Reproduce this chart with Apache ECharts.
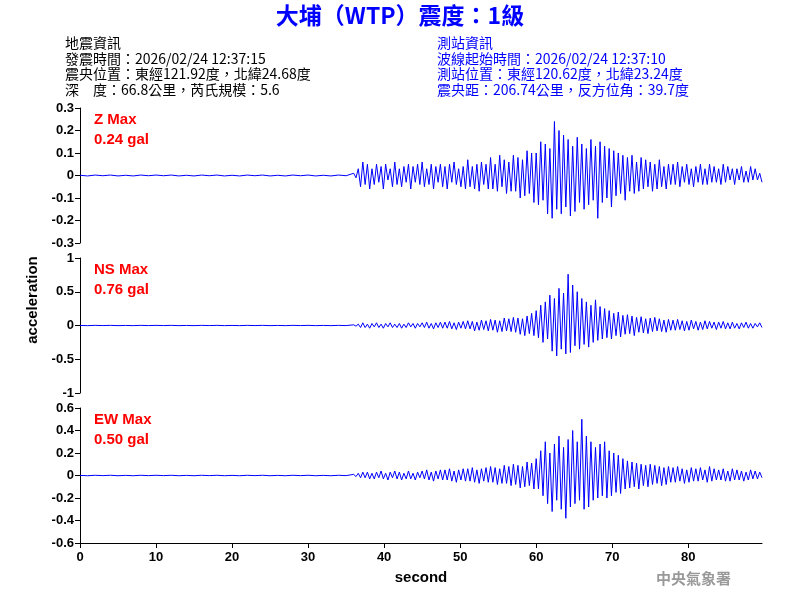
<!DOCTYPE html>
<html>
<head>
<meta charset="utf-8">
<script src="https://cdn.jsdelivr.net/npm/echarts@6/dist/echarts.min.js"></script>
<style>
  body { margin: 0; background: #fff; }
  #main { width: 800px; height: 600px; }
</style>
</head>
<body>
<div id="main"></div>
<script>
// sample spacing (s)
var quietStep = 1
var mainStart = 36
var mainStep = 0.3

// 0 - 35 s, before the waves arrive
var quiet = [0.001, -0.002, 0.002, -0.001, 0.002, -0.002, 0.001, -0.002, 0.002, -0.001,
  0.002, -0.001, 0.002, -0.002, 0.001, -0.002, 0.002, -0.001, 0.002, -0.002,
  0.001, -0.002, 0.002, -0.001, 0.002, -0.002, 0.001, -0.002, 0.002, -0.001,
  0.002, -0.002, 0.001, -0.002, 0.002, -0.001]

var zVals = [0.01, -0.01, 0.03, -0.05, 0.06, -0.04, 0.05, -0.06, 0.03, -0.04,
  0.05, -0.03, 0.04, -0.06, 0.05, -0.02, 0.03, -0.05, 0.06, -0.04,
  0.03, -0.05, 0.04, -0.03, 0.05, -0.06, 0.04, -0.03, 0.05, -0.04,
  0.06, -0.05, 0.03, -0.04, 0.05, -0.06, 0.04, -0.03, 0.05, -0.05,
  0.04, -0.06, 0.05, -0.03, 0.06, -0.04, 0.03, -0.05, 0.04, -0.06,
  0.07, -0.05, 0.04, -0.06, 0.05, -0.07, 0.06, -0.04, 0.05, -0.06,
  0.08, -0.06, 0.05, -0.07, 0.09, -0.05, 0.07, -0.08, 0.06, -0.07,
  0.09, -0.07, 0.08, -0.10, 0.07, -0.09, 0.11, -0.08, 0.10, -0.12,
  0.10, -0.13, 0.15, -0.11, 0.14, -0.17, 0.12, -0.19, 0.24, -0.15,
  0.20, -0.17, 0.18, -0.14, 0.16, -0.18, 0.13, -0.16, 0.17, -0.12,
  0.14, -0.15, 0.12, -0.13, 0.16, -0.11, 0.13, -0.19, 0.15, -0.12,
  0.13, -0.10, 0.12, -0.14, 0.11, -0.09, 0.10, -0.08, 0.09, -0.11,
  0.08, -0.07, 0.09, -0.08, 0.06, -0.07, 0.08, -0.06, 0.07, -0.05,
  0.06, -0.07, 0.05, -0.06, 0.07, -0.05, 0.04, -0.06, 0.05, -0.04,
  0.05, -0.04, 0.06, -0.05, 0.04, -0.03, 0.05, -0.04, 0.03, -0.05,
  0.04, -0.03, 0.05, -0.04, 0.03, -0.04, 0.05, -0.03, 0.04, -0.03,
  0.03, -0.04, 0.05, -0.03, 0.04, -0.02, 0.03, -0.04, 0.03, -0.02,
  0.04, -0.03, 0.02, -0.03, 0.04, -0.02, 0.03, -0.02, 0.01, -0.03]

var nsVals = [0.01, -0.01, 0.02, -0.03, 0.04, -0.03, 0.02, -0.04, 0.03, -0.02,
  0.04, -0.03, 0.02, -0.04, 0.03, -0.02, 0.04, -0.03, 0.02, -0.03,
  0.03, -0.04, 0.02, -0.03, 0.04, -0.02, 0.03, -0.04, 0.03, -0.02,
  0.04, -0.03, 0.05, -0.04, 0.03, -0.05, 0.04, -0.03, 0.05, -0.04,
  0.05, -0.04, 0.06, -0.05, 0.04, -0.06, 0.05, -0.04, 0.06, -0.05,
  0.07, -0.05, 0.06, -0.08, 0.05, -0.07, 0.08, -0.06, 0.07, -0.08,
  0.09, -0.07, 0.08, -0.10, 0.07, -0.09, 0.11, -0.08, 0.10, -0.09,
  0.12, -0.10, 0.11, -0.13, 0.10, -0.15, 0.14, -0.12, 0.18, -0.15,
  0.22, -0.18, 0.30, -0.25, 0.35, -0.20, 0.45, -0.38, 0.40, -0.45,
  0.55, -0.35, 0.48, -0.42, 0.76, -0.40, 0.60, -0.30, 0.50, -0.35,
  0.40, -0.28, 0.35, -0.32, 0.30, -0.25, 0.38, -0.22, 0.28, -0.20,
  0.25, -0.18, 0.22, -0.20, 0.18, -0.15, 0.20, -0.17, 0.15, -0.13,
  0.16, -0.12, 0.14, -0.15, 0.12, -0.10, 0.13, -0.11, 0.10, -0.12,
  0.11, -0.09, 0.12, -0.08, 0.10, -0.09, 0.08, -0.10, 0.09, -0.07,
  0.08, -0.07, 0.09, -0.06, 0.07, -0.08, 0.06, -0.07, 0.08, -0.05,
  0.06, -0.07, 0.05, -0.06, 0.07, -0.05, 0.06, -0.04, 0.05, -0.06,
  0.05, -0.04, 0.06, -0.05, 0.04, -0.05, 0.05, -0.04, 0.03, -0.05,
  0.04, -0.03, 0.05, -0.04, 0.03, -0.04, 0.03, -0.02, 0.04, -0.03]

var ewVals = [0.01, -0.01, 0.02, -0.02, 0.03, -0.02, 0.03, -0.03, 0.02, -0.03,
  0.03, -0.02, 0.04, -0.03, 0.02, -0.04, 0.03, -0.02, 0.04, -0.03,
  0.03, -0.04, 0.02, -0.03, 0.04, -0.03, 0.02, -0.04, 0.03, -0.02,
  0.04, -0.03, 0.05, -0.04, 0.03, -0.05, 0.04, -0.03, 0.05, -0.04,
  0.05, -0.04, 0.06, -0.05, 0.04, -0.06, 0.05, -0.04, 0.06, -0.05,
  0.06, -0.05, 0.07, -0.06, 0.05, -0.07, 0.06, -0.05, 0.07, -0.06,
  0.08, -0.06, 0.07, -0.08, 0.06, -0.07, 0.09, -0.07, 0.08, -0.09,
  0.10, -0.08, 0.09, -0.11, 0.08, -0.10, 0.12, -0.09, 0.11, -0.12,
  0.15, -0.12, 0.22, -0.18, 0.30, -0.25, 0.20, -0.32, 0.28, -0.22,
  0.35, -0.30, 0.25, -0.38, 0.32, -0.28, 0.40, -0.25, 0.30, -0.22,
  0.50, -0.30, 0.35, -0.28, 0.30, -0.22, 0.25, -0.20, 0.28, -0.18,
  0.30, -0.20, 0.22, -0.18, 0.20, -0.15, 0.18, -0.16, 0.15, -0.12,
  0.13, -0.11, 0.12, -0.10, 0.11, -0.12, 0.10, -0.09, 0.09, -0.10,
  0.10, -0.08, 0.09, -0.07, 0.08, -0.09, 0.07, -0.08, 0.08, -0.06,
  0.07, -0.06, 0.08, -0.05, 0.06, -0.07, 0.05, -0.06, 0.07, -0.05,
  0.06, -0.05, 0.07, -0.04, 0.05, -0.06, 0.08, -0.05, 0.06, -0.04,
  0.05, -0.04, 0.06, -0.05, 0.04, -0.05, 0.06, -0.04, 0.05, -0.04,
  0.04, -0.05, 0.03, -0.04, 0.05, -0.03, 0.04, -0.03, 0.03, -0.02]

var traceNames = ['Z Max', 'NS Max', 'EW Max']
var maxLabels = ['0.24 gal', '0.76 gal', '0.50 gal']
var yLimits = [0.3, 1, 0.6]
var yIntervals = [0.1, 0.5, 0.2]

function toPairs(vals) {
  var out = []
  for (var i = 0; i < quiet.length; i++) out.push([i * quietStep, quiet[i]])
  for (var j = 0; j < vals.length; j++) out.push([+(mainStart + j * mainStep).toFixed(2), vals[j]])
  return out
}
var traces = [zVals, nsVals, ewVals]

var font = '"Liberation Sans", Arial, sans-serif'
var cjk = '"Noto Sans CJK TC", "Liberation Sans", sans-serif'
var gridTops = [108, 258, 408]

var myChart = echarts.init(document.getElementById('main'))

var option = {
  backgroundColor: '#fff',
  animation: false,
  grid: gridTops.map(function (t) {
    return { left: 80, right: 38, top: t, height: 135 }
  }),
  xAxis: [0, 1, 2].map(function (i) {
    return {
      gridIndex: i, type: 'value', min: 0, max: 89.7, interval: 10,
      axisLine: { show: i === 2, onZero: false, lineStyle: { color: '#000' } },
      axisTick: { show: i === 2, lineStyle: { color: '#000' } },
      axisLabel: { show: i === 2, showMaxLabel: false, color: '#000', fontWeight: 'bold', fontSize: 13, fontFamily: font },
      splitLine: { show: false },
      name: i === 2 ? 'second' : '', nameLocation: 'middle', nameGap: 27,
      nameTextStyle: { color: '#000', fontWeight: 'bold', fontSize: 15, fontFamily: font }
    }
  }),
  yAxis: [0, 1, 2].map(function (i) {
    return {
      gridIndex: i, type: 'value', min: -yLimits[i], max: yLimits[i], interval: yIntervals[i],
      axisLine: { show: true, lineStyle: { color: '#000' } },
      axisTick: { show: true, lineStyle: { color: '#000' } },
      axisLabel: { color: '#000', fontWeight: 'bold', fontSize: 13, fontFamily: font, margin: 6 },
      splitLine: { show: false }
    }
  }),
  series: traces.map(function (v, i) {
    return {
      type: 'line', xAxisIndex: i, yAxisIndex: i, data: toPairs(v),
      showSymbol: false, lineStyle: { color: '#0000ff', width: 1 }
    }
  }),
  graphic: [
    { type: 'text', left: 'center', top: 4, style: { text: '大埔（WTP）震度：1級', fill: '#0000ff', font: 'bold 23px ' + cjk } },
    { type: 'text', left: 65, top: 35, style: { text: '地震資訊\n發震時間：2026/02/24 12:37:15\n震央位置：東經121.92度，北緯24.68度\n深　度：66.8公里，芮氏規模：5.6', fill: '#000', font: '14px ' + cjk, lineHeight: 15.5 } },
    { type: 'text', left: 437, top: 35, style: { text: '測站資訊\n波線起始時間：2026/02/24 12:37:10\n測站位置：東經120.62度，北緯23.24度\n震央距：206.74公里，反方位角：39.7度', fill: '#0000ff', font: '14px ' + cjk, lineHeight: 15.5 } },
    { type: 'text', x: 33, y: 300, rotation: Math.PI / 2, style: { text: 'acceleration', fill: '#000', font: 'bold 15px ' + font, align: 'center', verticalAlign: 'middle' } },
    { type: 'text', left: 656, top: 571, style: { text: '中央氣象署', fill: '#999', font: 'bold 15px ' + cjk } }
  ].concat(gridTops.map(function (t, i) {
    return { type: 'text', left: 94, top: t + 2, style: { text: traceNames[i] + '\n' + maxLabels[i], fill: '#ff0000', font: 'bold 15px ' + font, lineHeight: 20 } }
  }))
}

myChart.setOption(option)

window.onresize = function () {
  myChart.resize()
}
</script>
</body>
</html>
